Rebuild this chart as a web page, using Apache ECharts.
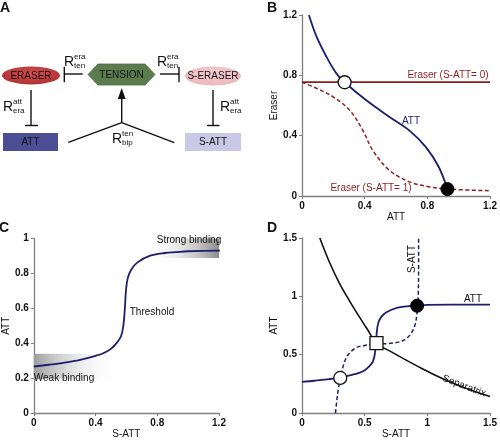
<!DOCTYPE html>
<html>
<head>
<meta charset="utf-8">
<script src="https://cdn.jsdelivr.net/npm/echarts@6/dist/echarts.min.js"></script>
<style>
html,body{margin:0;padding:0;background:#fff;}
#chart{width:500px;height:440px;}
</style>
</head>
<body>
<div id="chart"></div>
<script>
// ---------- Panel B data (ATT vs Eraser) ----------
const bAttNullcline = [[0.044,1.2],[0.093,1.056],[0.156,0.923],[0.219,0.813],[0.272,0.754],[0.408,0.636],[0.556,0.526],[0.682,0.437],[0.788,0.327],[0.872,0.194],[0.928,0.046]];
const bEraserSatt0 = [[0,0.755],[1.2,0.755]];
const bEraserSatt1 = [[0,0.754],[0.093,0.714],[0.198,0.658],[0.303,0.57],[0.387,0.438],[0.45,0.305],[0.556,0.172],[0.682,0.095],[0.808,0.062],[0.93,0.046],[1.2,0.035]];
const bUnstablePoints = [[0.272,0.754]];
const bStablePoints = [[0.928,0.046]];

// ---------- Panel C / D data (ATT response to S-ATT) ----------
const attResponse = [[0,0.267],[0.1,0.277],[0.2,0.289],[0.3,0.305],[0.4,0.328],[0.45,0.343],[0.5,0.368],[0.54,0.405],[0.565,0.44],[0.58,0.5],[0.59,0.6],[0.597,0.7],[0.608,0.77],[0.63,0.82],[0.67,0.862],[0.75,0.9],[0.85,0.917],[0.92,0.922],[1.0,0.927],[1.2,0.93],[1.5,0.93]];
const weakBindingBox = {x:[0,0.545], y:[0.195,0.34]};
const strongBindingBox = {x:[0.712,1.245], y:[0.889,1.028]};

// ---------- Panel D data ----------
const separatrix = [[0.142,1.5],[0.22,1.29],[0.3,1.11],[0.38,0.96],[0.46,0.82],[0.52,0.72],[0.594,0.6],[0.72,0.52],[0.82,0.46],[0.96,0.38],[1.11,0.3],[1.29,0.22],[1.5,0.142]];
const dUnstablePoints = [[0.305,0.301]];
const dSaddlePoints = [[0.594,0.599]];
const dStablePoints = [[0.918,0.92]];

// ---------- Tick settings ----------
const bTicks = {min:0, max:1.2, interval:0.4};
const cTicksX = {min:0, max:1.2, interval:0.4};
const cTicksY = {min:0, max:1, interval:0.2};
const dTicks = {min:0, max:1.5, interval:0.5};

const FONT = '"Liberation Sans", Arial, Helvetica, sans-serif';
const NAVY = '#1d1f6e';
const DARKRED = '#8e1e1e';
const AXIS_GRAY = '#7f7f7f';

const chart = echarts.init(document.getElementById('chart'), null, {renderer:'canvas'});

function axisCommon(extra){
  return Object.assign({
    type:'value',
    axisLine:{show:true, onZero:false, lineStyle:{color:AXIS_GRAY, width:1.3}},
    axisTick:{show:true, length:3, lineStyle:{color:AXIS_GRAY}},
    splitLine:{show:false},
    axisLabel:{color:'#111', fontSize:10, fontFamily:FONT, fontWeight:'bold', margin:5},
    nameLocation:'middle',
    nameTextStyle:{color:'#111', fontSize:10, fontFamily:FONT}
  }, extra);
}

const swapped = attResponse.map(p => [p[1], p[0]]);

function txt(text, x, y, opts){
  opts = opts || {};
  return {
    type:'text', x:x, y:y, rotation:opts.rotation||0, z:100,
    style:{
      text:text, x:0, y:0,
      font:(opts.weight||'normal')+' '+(opts.size||10)+'px '+FONT,
      fill:opts.color||'#111',
      align:opts.align||'center', verticalAlign:'middle',
      textAlign:opts.align||'center', textVerticalAlign:'middle'
    }
  };
}
function ln(x1,y1,x2,y2){
  return {type:'line', shape:{x1:x1,y1:y1,x2:x2,y2:y2}, style:{stroke:'#111', lineWidth:1.4}, z:50};
}
function rLabel(x, yR, sup, sub){
  return [
    txt('R', x, yR, {size:14, align:'left'}),
    txt(sup, x+10, yR-5, {size:8, align:'left'}),
    txt(sub, x+10, yR+4, {size:8, align:'left'})
  ];
}

const graphics = [
  // panel letters
  txt('A', 5, 8, {size:14, weight:'bold'}),
  txt('B', 272, 8, {size:14, weight:'bold'}),
  txt('C', 4, 228, {size:14, weight:'bold'}),
  txt('D', 272, 228, {size:14, weight:'bold'}),
  // Diagram A shapes
  {type:'circle', x:31, y:75.5, scaleX:29/9, scaleY:1, shape:{cx:0,cy:0,r:9},
    style:{fill:new echarts.graphic.RadialGradient(0.5,0.4,0.7,[{offset:0,color:'#d85050'},{offset:1,color:'#a82a2e'}])}, z:40},
  {type:'circle', x:213, y:76, scaleX:28/9.5, scaleY:1, shape:{cx:0,cy:0,r:9.5},
    style:{fill:new echarts.graphic.RadialGradient(0.5,0.4,0.7,[{offset:0,color:'#f6d0d2'},{offset:1,color:'#eab2b6'}])}, z:40},
  {type:'polygon', shape:{points:[[88,74.5],[98,64],[145,64],[155,74.5],[145,85],[98,85]]},
    style:{fill:'#5b7d4e', stroke:'#4a6a40', lineWidth:0.8}, z:40},
  {type:'rect', shape:{x:3,y:133,width:55,height:18}, style:{fill:'#4b4e95'}, z:40},
  {type:'rect', shape:{x:185,y:133,width:56,height:18}, style:{fill:'#c9c9e7'}, z:40},
  txt('ERASER', 31, 76, {size:10}),
  txt('TENSION', 121.5, 75, {size:10}),
  txt('S-ERASER', 213, 76, {size:10}),
  txt('ATT', 30.5, 142.5, {size:10}),
  txt('S-ATT', 213, 142.5, {size:10}),
  // inhibition arms
  ln(64.3,74,82.7,74), ln(64.3,66.7,64.3,82.3),
  ln(160,74,179,74), ln(179,66.7,179,82.3),
  ln(31,90,31,125.5), ln(25,125.5,38,125.5),
  ln(213,90,213,125.5), ln(207,125.5,219.5,125.5),
  // activation arrow
  ln(121.7,122.7,121.7,96),
  {type:'polygon', shape:{points:[[121.7,88],[117.8,99],[125.6,99]]}, style:{fill:'#111'}, z:50},
  ln(68.3,142.3,121.7,122.7), ln(121.7,122.7,174.3,142.7),
  // panel B annotations
  txt('Eraser (S-ATT= 0)', 448, 75, {color:DARKRED}),
  txt('ATT', 411, 121.5, {color:NAVY}),
  txt('Eraser (S-ATT= 1)', 371, 188.5, {color:DARKRED}),
  // panel C annotations
  txt('Strong binding', 189, 240),
  txt('Weak binding', 64, 378),
  txt('Threshold', 152, 312),
  // panel D annotations
  txt('ATT', 473, 299.5),
  txt('S-ATT', 412, 259, {rotation:Math.PI/2}),
  txt('Separatrix', 464, 386, {rotation:-0.36})
];
rLabel(64, 62, 'era', 'ten').forEach(g=>graphics.push(g));
rLabel(157, 62, 'era', 'ten').forEach(g=>graphics.push(g));
rLabel(3, 107, 'att', 'era').forEach(g=>graphics.push(g));
rLabel(220, 107, 'att', 'era').forEach(g=>graphics.push(g));
rLabel(112, 139, 'ten', 'bip').forEach(g=>graphics.push(g));

const openMarker = {color:'#fff', borderColor:'#111', borderWidth:1.3, opacity:1};
const filledMarker = {color:'#000', borderColor:'#000', borderWidth:1, opacity:1};

const option = {
  animation:false,
  backgroundColor:'#fff',
  textStyle:{fontFamily:FONT},
  grid:[
    {left:302, top:15, width:190, height:181},
    {left:32, top:238.5, width:187, height:180},
    {left:302, top:238, width:190, height:181}
  ],
  xAxis:[
    axisCommon(Object.assign({gridIndex:0, name:'ATT', nameGap:12}, bTicks)),
    axisCommon(Object.assign({gridIndex:1, name:'S-ATT', nameGap:11}, cTicksX)),
    axisCommon(Object.assign({gridIndex:2, name:'S-ATT', nameGap:12}, dTicks))
  ],
  yAxis:[
    axisCommon(Object.assign({gridIndex:0, name:'Eraser', nameGap:14}, bTicks)),
    axisCommon(Object.assign({gridIndex:1, name:'ATT', nameGap:20}, cTicksY)),
    axisCommon(Object.assign({gridIndex:2, name:'ATT', nameGap:10}, dTicks))
  ],
  series:[
    // Panel B
    {type:'line', xAxisIndex:0, yAxisIndex:0, data:bEraserSatt0, showSymbol:false, symbol:'none',
      lineStyle:{color:DARKRED, width:1.6}},
    {type:'line', xAxisIndex:0, yAxisIndex:0, data:bEraserSatt1, smooth:0.35, symbol:'none',
      lineStyle:{color:DARKRED, width:1.5, type:[4,2.5]}},
    {type:'line', xAxisIndex:0, yAxisIndex:0, data:bAttNullcline, smooth:0.35, symbol:'none',
      lineStyle:{color:NAVY, width:1.8}},
    {type:'scatter', xAxisIndex:0, yAxisIndex:0, data:bUnstablePoints, symbol:'circle', symbolSize:13, z:10,
      itemStyle:openMarker},
    {type:'scatter', xAxisIndex:0, yAxisIndex:0, data:bStablePoints, symbol:'circle', symbolSize:13, z:10,
      itemStyle:filledMarker},
    // Panel C
    {type:'line', xAxisIndex:1, yAxisIndex:1, data:[], clip:false, symbol:'none', z:1,
      markArea:{silent:true, data:[
        [{coord:[weakBindingBox.x[0], weakBindingBox.y[1]],
          itemStyle:{color:new echarts.graphic.LinearGradient(0,0,1,0,[{offset:0,color:'#9e9e9e'},{offset:1,color:'rgba(255,255,255,0)'}])}},
         {coord:[weakBindingBox.x[1], weakBindingBox.y[0]]}],
        [{coord:[strongBindingBox.x[0], strongBindingBox.y[1]],
          itemStyle:{color:new echarts.graphic.LinearGradient(0,0,1,0,[{offset:0,color:'rgba(255,255,255,0)'},{offset:1,color:'#8c8c8c'}])}},
         {coord:[strongBindingBox.x[1], strongBindingBox.y[0]]}]
      ]}},
    {type:'line', xAxisIndex:1, yAxisIndex:1, data:attResponse, smooth:0.35, symbol:'none', z:5,
      lineStyle:{color:NAVY, width:1.8}},
    // Panel D
    {type:'line', xAxisIndex:2, yAxisIndex:2, data:separatrix, smooth:0.35, symbol:'none',
      lineStyle:{color:'#111', width:1.6}},
    {type:'line', xAxisIndex:2, yAxisIndex:2, data:swapped, smooth:0.35, symbol:'none',
      lineStyle:{color:NAVY, width:1.5, type:[4,2.5]}},
    {type:'line', xAxisIndex:2, yAxisIndex:2, data:attResponse, smooth:0.35, symbol:'none',
      lineStyle:{color:NAVY, width:1.8}},
    {type:'scatter', xAxisIndex:2, yAxisIndex:2, data:dUnstablePoints, symbol:'circle', symbolSize:13, z:10,
      itemStyle:openMarker},
    {type:'scatter', xAxisIndex:2, yAxisIndex:2, data:dSaddlePoints, symbol:'rect', symbolSize:13, z:10,
      itemStyle:openMarker},
    {type:'scatter', xAxisIndex:2, yAxisIndex:2, data:dStablePoints, symbol:'circle', symbolSize:13, z:10,
      itemStyle:filledMarker}
  ],
  graphic:graphics
};
chart.setOption(option);
</script>
</body>
</html>
